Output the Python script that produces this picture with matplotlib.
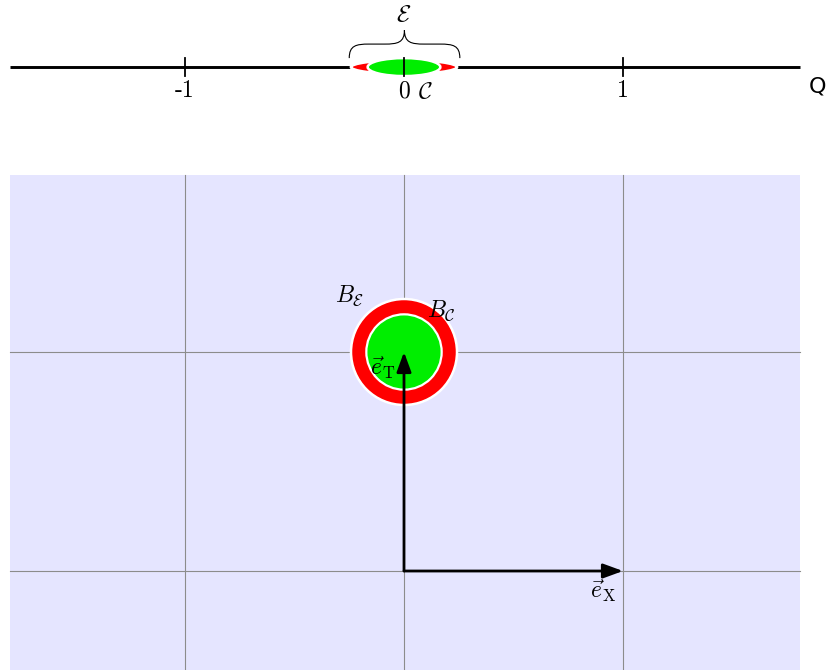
import numpy as np
import matplotlib
matplotlib.use("Agg")
import matplotlib.pyplot as plt
from matplotlib.patches import Circle, Ellipse, Rectangle, FancyArrowPatch, PathPatch
from matplotlib.path import Path

plt.rcParams['mathtext.fontset'] = 'cm'

# number line (top)
tick_vals = [-1, 0, 1]
tick_labels = ['-1', '0', '1']
axis_name = 'Q'
line_extent = [-1.8, 1.81]

# balls
r_eps = 0.242
r_c = 0.172
ball_center = (0, 1)

# grid of the lower panel
grid_x = [-1, 0, 1]
grid_y = [0, 1]
panel_x = [-1.8, 1.81]
panel_y = [-0.46, 1.81]

# basis vectors (start, end)
e_x = [(0, 0), (1, 0)]
e_t = [(0, 0), (0, 1)]

y_line = 2.301

fig = plt.figure(figsize=(8.27, 6.70), dpi=100)
ax = fig.add_axes([0, 0, 1, 1])
ax.set_xlim(-404 / 219, 423 / 219)
ax.set_ylim(-99 / 219, 571 / 219)
ax.axis('off')

# ---- top number line ----
ax.plot(line_extent, [y_line, y_line], color='black', lw=2.1, solid_capstyle='butt', zorder=1)
ax.add_patch(Ellipse((0, y_line), 2 * r_eps, 0.064, facecolor='red', edgecolor='white', lw=2.0, zorder=2))
ax.add_patch(Ellipse((0, y_line), 2 * r_c - 0.012, 0.082, facecolor='#00ee00', edgecolor='white', lw=1.8, zorder=3))
for v, lab in zip(tick_vals, tick_labels):
    ax.plot([v, v], [y_line - 0.04, y_line + 0.04], color='black', lw=1.3, zorder=4)
    ax.text(v, y_line - 0.11, lab, fontfamily='cmr10', fontsize=17, ha='center', va='center')
ax.text(0.096, y_line - 0.11, r'$\mathcal{C}$', fontsize=17, ha='center', va='center')
ax.text(1.89, y_line - 0.09, axis_name, fontsize=16, ha='center', va='center')

# brace over the epsilon ball
x0, x1, xm = -0.25, 0.255, 0.002
yb, h, q = 2.342, 0.128, 0.09
verts = [(x0, yb), (x0, yb + h * 0.45), (x0 + q * 0.35, yb + h / 2), (x0 + q, yb + h / 2),
         (xm - q, yb + h / 2),
         (xm - q * 0.35, yb + h / 2), (xm, yb + h * 0.55), (xm, yb + h),
         (xm, yb + h * 0.55), (xm + q * 0.35, yb + h / 2), (xm + q, yb + h / 2),
         (x1 - q, yb + h / 2),
         (x1 - q * 0.35, yb + h / 2), (x1, yb + h * 0.45), (x1, yb)]
codes = [Path.MOVETO, Path.CURVE4, Path.CURVE4, Path.CURVE4, Path.LINETO,
         Path.CURVE4, Path.CURVE4, Path.CURVE4,
         Path.CURVE4, Path.CURVE4, Path.CURVE4, Path.LINETO,
         Path.CURVE4, Path.CURVE4, Path.CURVE4]
ax.add_patch(PathPatch(Path(verts, codes), facecolor='none', edgecolor='black', lw=0.8))
ax.text(0, 2.545, r'$\mathcal{E}$', fontsize=17, ha='center', va='center')

# ---- lower panel ----
ax.add_patch(Rectangle((panel_x[0], panel_y[0]), panel_x[1] - panel_x[0], panel_y[1] - panel_y[0],
                       facecolor='#e5e5ff', edgecolor='none', zorder=0))
for gx in grid_x:
    ax.plot([gx, gx], panel_y, color='#8c8c8c', lw=0.8, zorder=1)
for gy in grid_y:
    ax.plot(panel_x, [gy, gy], color='#8c8c8c', lw=0.8, zorder=1)

ax.add_patch(Circle(ball_center, r_eps, facecolor='red', edgecolor='white', lw=1.8, zorder=2))
ax.add_patch(Circle(ball_center, r_c, facecolor='#00ee00', edgecolor='white', lw=1.6, zorder=3))

for start, end in [e_x, e_t]:
    ax.add_patch(FancyArrowPatch(start, end, arrowstyle='-|>,head_length=0.6,head_width=0.22',
                                 mutation_scale=20, color='black', lw=2, shrinkA=0, shrinkB=0, zorder=5))

ax.text(-0.247, 1.256, r'$B_\mathcal{E}$', fontsize=17, ha='center', va='center')
ax.text(0.169, 1.187, r'$B_\mathcal{C}$', fontsize=17, ha='center', va='center')
ax.text(-0.096, 0.927, r'$\vec{e}_\mathrm{T}$', fontsize=17, ha='center', va='center', zorder=6)
ax.text(0.907, -0.087, r'$\vec{e}_\mathrm{X}$', fontsize=17, ha='center', va='center')

fig.savefig('out.png', dpi=100)
